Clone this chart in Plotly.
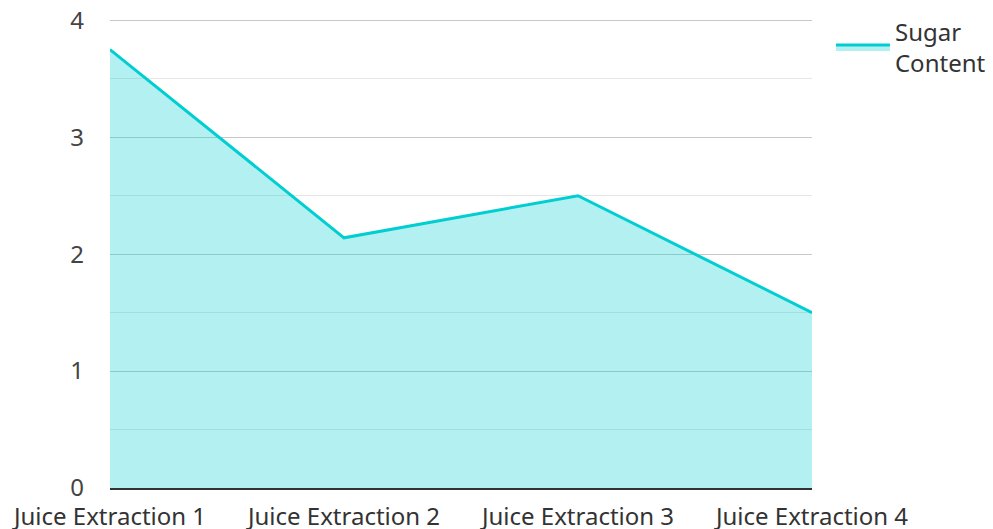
import plotly.graph_objects as go

categories = ["Juice Extraction 1", "Juice Extraction 2", "Juice Extraction 3", "Juice Extraction 4"]
sugar_content = [3.75, 2.14, 2.5, 1.5]
series_name = "Sugar<br>Content"

fig = go.Figure()
fig.add_trace(go.Scatter(
    x=categories, y=sugar_content, name=series_name,
    mode="lines", fill="tozeroy",
    line=dict(color="#00CED1", width=3),
    fillcolor="rgba(0,206,209,0.3)",
    showlegend=True,
))

fig.update_layout(
    width=993, height=529,
    margin=dict(l=102, r=189, t=10, b=49, autoexpand=False),
    plot_bgcolor="white", paper_bgcolor="white",
    font=dict(family="Noto Sans", size=24, color="#444"),
    legend=dict(x=1.027, xanchor="left", y=1.0185, yanchor="top", itemwidth=54,
                font=dict(size=24, color="#333"), bgcolor="rgba(0,0,0,0)"),
    xaxis=dict(type="category", range=[0, 3], showgrid=False, automargin=False,
               showline=True, linecolor="#333", linewidth=2,
               ticks="", ticklabelstandoff=6, ticklabeloverflow="allow",
               tickfont=dict(size=24, color="#333")),
    yaxis=dict(range=[0, 4.02], tickvals=[0, 1, 2, 3, 4], showgrid=True,
               gridcolor="#c8c8c8", gridwidth=1,
               zeroline=False, ticks="", ticklabelstandoff=25, automargin=False,
               ticklabeloverflow="allow",
               minor=dict(tickvals=[0.5, 1.5, 2.5, 3.5], showgrid=True,
                          gridcolor="#e6e6e6", gridwidth=1),
               tickfont=dict(size=24, color="#444")),
)

fig.write_html("out.html")
